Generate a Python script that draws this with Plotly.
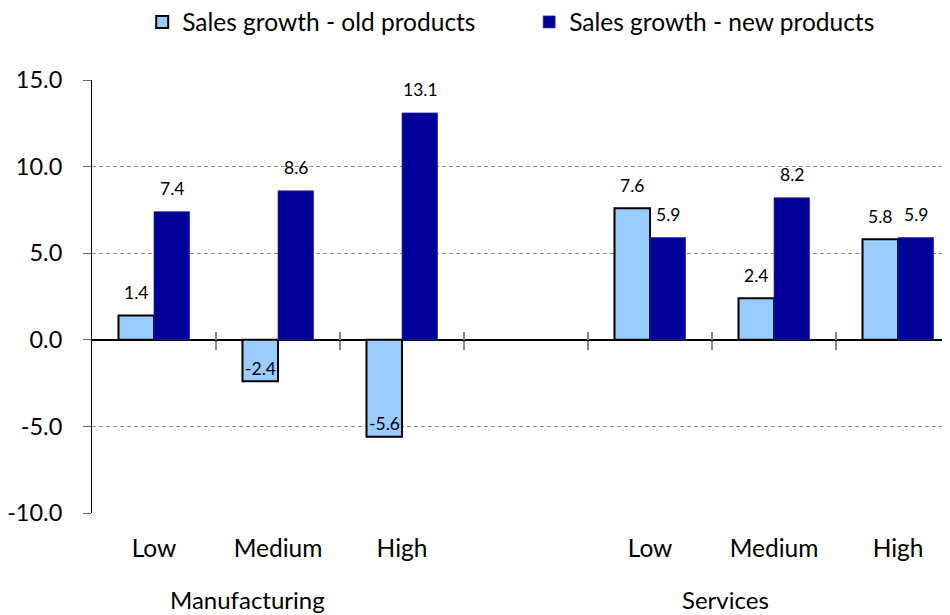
import plotly.graph_objects as go

categories = ["Low", "Medium", "High", "", "Low", "Medium", "High"]
groups = ["Manufacturing", "Services"]
old_products = [1.4, -2.4, -5.6, None, 7.6, 2.4, 5.8]
new_products = [7.4, 8.6, 13.1, None, 5.9, 8.2, 5.9]
y_ticks = [-10, -5, 0, 5, 10, 15]

FONT = "Lato"
xs = list(range(len(categories)))

fig = go.Figure()
fig.add_trace(go.Bar(
    x=xs, y=old_products, name="Sales growth - old products",
    marker=dict(color="#99CCFF", line=dict(color="#000000", width=2)),
    legend="legend",
))
fig.add_trace(go.Bar(
    x=xs, y=new_products, name="Sales growth - new products",
    marker=dict(color="#000099", line=dict(color="#2a2aa8", width=0.7)),
    legend="legend2",
))

# data labels
annotations = []
for series, shift in ((old_products, -18), (new_products, 18)):
    for xi, v in zip(xs, series):
        if v is None:
            continue
        annotations.append(dict(
            x=xi, y=v, xref="x", yref="y", text=f"{v:.1f}", showarrow=False,
            xshift=shift, yshift=23 if v >= 0 else 13,
            font=dict(family=FONT, size=17.5, color="#000000"),
            xanchor="center", yanchor="middle",
        ))

# group labels
for name, px in zip(groups, (0.1818, 0.7378)):
    annotations.append(dict(
        x=px, y=-0.199, xref="paper", yref="paper", text=name, showarrow=False,
        font=dict(family=FONT, size=24, color="#000000"),
        xanchor="center", yanchor="middle",
    ))

xrange = [-0.5, 6.419]
boundaries = [i + 0.5 for i in range(len(categories) - 1)]

legend_style = dict(
    orientation="h", yref="container", y=0.977, xanchor="left", yanchor="middle",
    font=dict(family=FONT, size=24.5, color="#000000"),
    bgcolor="rgba(0,0,0,0)", itemclick=False,
)

# page body has an 8px default margin -> figure sized/offset to compensate
fig.update_layout(
    width=942, height=607,
    margin=dict(l=84, r=0, t=72, b=102),
    paper_bgcolor="white", plot_bgcolor="white",
    barmode="group", bargap=0.427, bargroupgap=0,
    font=dict(family=FONT, size=21, color="#000000"),
    showlegend=True,
    legend=dict(x=0.0585, **legend_style),
    legend2=dict(x=0.5095, **legend_style),
    annotations=annotations,
    xaxis=dict(
        range=xrange, tickmode="array", tickvals=xs, ticktext=categories,
        showline=False, showgrid=False, zeroline=False, ticks="",
        ticklabelstandoff=18,
        tickfont=dict(family=FONT, size=24.5, color="#000000"),
    ),
    xaxis2=dict(
        overlaying="x", anchor="free", position=0.4, range=xrange,
        tickmode="array", tickvals=boundaries, showticklabels=False,
        ticks="outside", ticklen=9, tickcolor="#888888", tickwidth=1.5,
        showline=False, showgrid=False, zeroline=False,
    ),
    xaxis3=dict(
        overlaying="x", anchor="free", position=0.4, range=xrange,
        tickmode="array", tickvals=boundaries, showticklabels=False,
        ticks="inside", ticklen=8, tickcolor="#888888", tickwidth=1.5,
        showline=False, showgrid=False, zeroline=False,
    ),
    yaxis=dict(
        range=[-10, 15], tickmode="array", tickvals=y_ticks,
        ticktext=[f"{t:.1f}" for t in y_ticks],
        showline=True, linecolor="#000000", linewidth=1,
        ticks="outside", ticklen=8, tickcolor="#666666",
        ticklabelstandoff=16,
        showgrid=True, gridcolor="#8c8c8c", gridwidth=1, griddash="4px,3px",
        zeroline=True, zerolinecolor="#000000", zerolinewidth=1.5,
        tickfont=dict(family=FONT, size=23.5, color="#000000"),
    ),
)

# invisible traces to activate overlay axes
fig.add_trace(go.Scatter(x=[None], y=[None], xaxis="x2", showlegend=False, hoverinfo="skip"))
fig.add_trace(go.Scatter(x=[None], y=[None], xaxis="x3", showlegend=False, hoverinfo="skip"))

fig.write_html("out.html")
